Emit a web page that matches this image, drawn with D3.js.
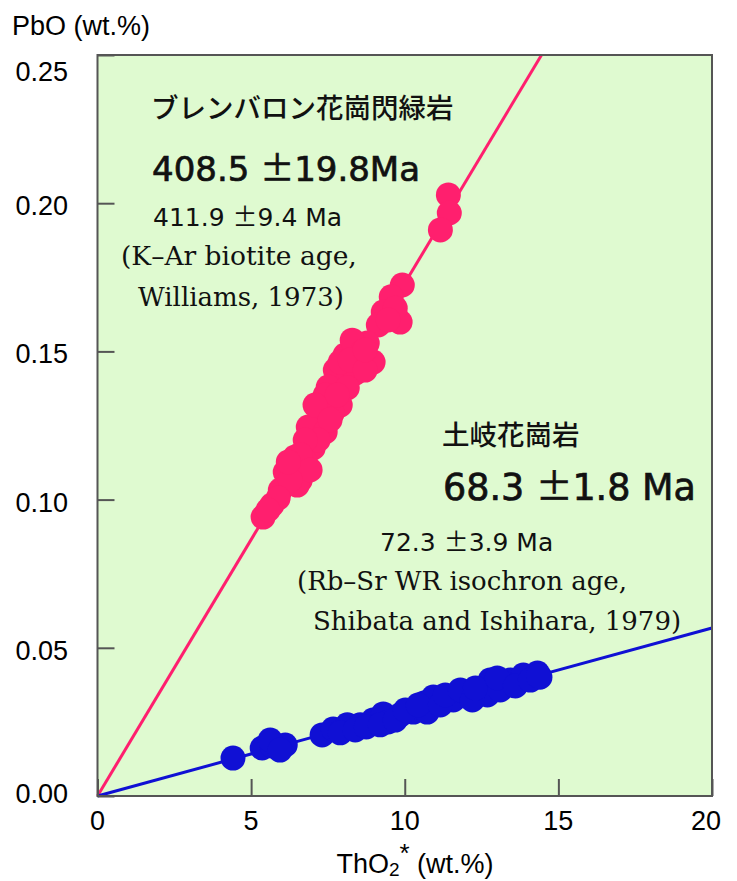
<!DOCTYPE html>
<meta charset="utf-8" />
<script src="https://d3js.org/d3.v7.js"></script>
<style>
  body { margin: 0; background: #fff; }
</style>
<div id="chart"></div>
<script>
  // ThO2* / PbO data
  const brenThO2 = [11.42, 11.45, 11.16, 9.92, 9.56, 9.30, 9.85, 9.14, 8.78, 8.46,
    8.06, 8.97, 7.74, 8.39, 7.51, 8.13, 7.90, 7.25, 7.64, 6.86,
    7.41, 7.02, 6.43, 6.76, 6.11, 6.60, 5.95, 6.50, 5.68, 5.39,
    8.29, 8.62, 7.90, 8.22, 8.71, 7.41, 7.80, 7.08, 7.57, 7.18,
    6.76, 6.60, 6.92, 6.27, 6.21, 5.88, 5.55, 9.69, 9.46, 8.71];
  const brenPbO = [0.2028, 0.1967, 0.1910, 0.1724, 0.1684, 0.1633, 0.1599, 0.1589, 0.1528, 0.1515,
    0.1488, 0.1464, 0.1437, 0.1427, 0.1380, 0.1377, 0.1319, 0.1279, 0.1292, 0.1245,
    0.1228, 0.1174, 0.1144, 0.1127, 0.1093, 0.1066, 0.1032, 0.1049, 0.0982, 0.0941,
    0.1538, 0.1498, 0.1464, 0.1471, 0.1437, 0.1353, 0.1353, 0.1319, 0.1269, 0.1201,
    0.1201, 0.1151, 0.1100, 0.1066, 0.1127, 0.1005, 0.0965, 0.1646, 0.1606, 0.1505];

  const tokiThO2 = [4.41, 5.36, 5.68, 6.11, 7.31, 7.67, 8.13, 8.55, 8.97, 9.30,
    9.46, 9.85, 10.28, 10.63, 10.93, 10.73, 11.58, 12.03, 12.46, 12.78,
    12.69, 13.44, 13.86, 14.32, 14.40,
    7.90, 8.39, 8.75, 9.20, 9.69, 10.02, 10.44, 11.16, 11.32, 11.81,
    12.20, 12.30, 13.11, 13.01, 13.60, 14.09, 14.35, 5.62, 5.94];
  const tokiPbO = [0.0128, 0.0162, 0.0169, 0.0172, 0.0206, 0.0226, 0.0240, 0.0240, 0.0256, 0.0277,
    0.0250, 0.0273, 0.0283, 0.0314, 0.0334, 0.0283, 0.0324, 0.0348, 0.0358, 0.0391,
    0.0341, 0.0391, 0.0408, 0.0415, 0.0401,
    0.0213, 0.0223, 0.0233, 0.0240, 0.0256, 0.0290, 0.0307, 0.0307, 0.0341, 0.0358,
    0.0324, 0.0364, 0.0358, 0.0398, 0.0371, 0.0391, 0.0405, 0.0189, 0.0155];

  // isochron slopes (PbO per ThO2*)
  const brenSlope = 0.0173;
  const tokiSlope = 0.002835;

  const xTicks = [0, 5, 10, 15, 20];
  const yTicks = [0, 0.05, 0.1, 0.15, 0.2, 0.25];

  const width = 737;
  const height = 881;
  const pink = "#ff1f6e";
  const blue = "#1010d4";

  const svg = d3.select("#chart")
    .append("svg")
    .attr("width", width)
    .attr("height", height);

  const x = d3.scaleLinear().domain([0, 20]).range([97.5, 712]);
  const y = d3.scaleLinear().domain([0, 0.25]).range([796, 55]);

  // plot background
  svg.append("rect")
    .attr("x", x(0)).attr("y", y(0.25))
    .attr("width", x(20) - x(0)).attr("height", y(0) - y(0.25))
    .attr("fill", "#dffad0");

  // isochron lines (under the points)
  function isoLine(slope, color) {
    const xEnd = Math.min(20, 0.25 / slope);
    svg.append("line")
      .attr("x1", x(0)).attr("y1", y(0))
      .attr("x2", x(xEnd)).attr("y2", y(slope * xEnd))
      .attr("stroke", color)
      .attr("stroke-width", 3);
  }
  isoLine(brenSlope, pink);
  isoLine(tokiSlope, blue);

  // points
  const brenData = brenThO2.map((v, i) => ({ x: v, y: brenPbO[i] }));
  const tokiData = tokiThO2.map((v, i) => ({ x: v, y: tokiPbO[i] }));

  svg.append("g").selectAll("circle")
    .data(tokiData)
    .join("circle")
    .attr("cx", d => x(d.x))
    .attr("cy", d => y(d.y))
    .attr("r", 12.5)
    .attr("fill", blue);

  svg.append("g").selectAll("circle")
    .data(brenData)
    .join("circle")
    .attr("cx", d => x(d.x))
    .attr("cy", d => y(d.y))
    .attr("r", 12.5)
    .attr("fill", pink);

  // inward ticks
  const axisColor = "#555";
  svg.append("g")
    .attr("transform", `translate(0,${y(0)})`)
    .call(d3.axisBottom(x).tickValues(xTicks).tickSize(-17).tickFormat("").tickSizeOuter(0))
    .call(g => g.select(".domain").remove())
    .call(g => g.selectAll("line").attr("stroke", axisColor).attr("stroke-width", 2));
  svg.append("g")
    .attr("transform", `translate(${x(0)},0)`)
    .call(d3.axisLeft(y).tickValues(yTicks).tickSize(-17).tickFormat("").tickSizeOuter(0))
    .call(g => g.select(".domain").remove())
    .call(g => g.selectAll("line").attr("stroke", axisColor).attr("stroke-width", 2));

  // frame
  svg.append("rect")
    .attr("x", x(0)).attr("y", y(0.25))
    .attr("width", x(20) - x(0)).attr("height", y(0) - y(0.25))
    .attr("fill", "none")
    .attr("stroke", axisColor)
    .attr("stroke-width", 2);

  // tick labels
  const sans = "'Liberation Sans', Arial, sans-serif";
  svg.append("g").selectAll("text")
    .data(yTicks)
    .join("text")
    .attr("x", 68)
    .attr("y", d => Math.min(803, Math.max(81, y(d) + 12)))
    .attr("text-anchor", "end")
    .style("font-family", sans)
    .style("font-size", "27px")
    .text(d => d.toFixed(2));

  svg.append("g").selectAll("text")
    .data(xTicks)
    .join("text")
    .attr("x", d => Math.min(706, x(d)))
    .attr("y", 830)
    .attr("text-anchor", "middle")
    .style("font-family", sans)
    .style("font-size", "27px")
    .text(d => d);

  // axis titles
  svg.append("text")
    .attr("x", 12).attr("y", 35)
    .style("font-family", sans)
    .style("font-size", "27px")
    .text("PbO (wt.%)");

  const xt = svg.append("text")
    .attr("x", 415).attr("y", 873)
    .attr("text-anchor", "middle")
    .style("font-family", sans)
    .style("font-size", "27px");
  xt.append("tspan").text("ThO");
  xt.append("tspan").attr("dy", 3).style("font-size", "19px").text("2");
  xt.append("tspan").attr("dy", -14).style("font-size", "26px").text("*");
  xt.append("tspan").attr("dy", 11).text(" (wt.%)");

  // annotations
  const jp = "'Noto Sans CJK JP', sans-serif";
  const serif = "'DejaVu Serif', 'Liberation Serif', serif";
  const num = "'DejaVu Sans', sans-serif";
  function label(tx, ty, str, size, family, weight) {
    return svg.append("text")
      .attr("x", tx).attr("y", ty)
      .style("font-family", family)
      .style("font-size", size + "px")
      .style("font-weight", weight || 400)
      .style("fill", "#111")
      .text(str);
  }
  // age label: number, full-width ±, error
  function ageLabel(tx, ty, a, b, size, heavy) {
    const t = label(tx, ty, "", size, num);
    if (heavy) t.style("stroke", "#111").style("stroke-width", 0.7);
    t.append("tspan").text(a + " ");
    t.append("tspan").style("font-family", jp).text("±");
    t.append("tspan").text(b);
  }
  label(151, 118, "ブレンバロン花崗閃緑岩", 27.5, jp, 500);
  ageLabel(152, 181, "408.5", "19.8Ma", 34, true);
  ageLabel(153, 226, "411.9", "9.4 Ma", 25);
  label(121, 265, "(K–Ar biotite age,", 26.5, serif);
  label(138, 306, "Williams, 1973)", 26, serif);

  label(442, 445, "土岐花崗岩", 27.5, jp, 500);
  ageLabel(443, 500, "68.3", "1.8 Ma", 36.5, true);
  ageLabel(380, 551, "72.3", "3.9 Ma", 25);
  label(297, 590, "(Rb–Sr WR isochron age,", 26, serif);
  label(313, 630, "Shibata and Ishihara, 1979)", 26, serif);
</script>
